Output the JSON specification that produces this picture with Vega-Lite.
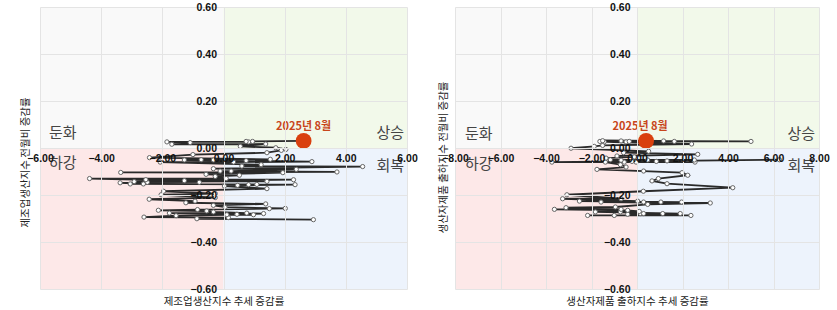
{
  "$schema": "https://vega.github.io/schema/vega-lite/v6.json",
  "padding": {"left": 19, "top": 2, "right": 0, "bottom": 0},
  "background": "white",
  "spacing": 48,
  "bounds": "flush",
  "config": {
    "view": {"stroke": null},
    "axis": {
      "domain": false, "ticks": false, "grid": true, "gridColor": "#e4e4e4", "gridWidth": 1,
      "labelFont": "Liberation Sans", "labelFontWeight": "bold", "labelFontSize": 10.5, "labelColor": "#111",
      "labelFlush": false, "labelOverlap": false,
      "titleFont": "Noto Sans CJK KR", "titleFontSize": 10.5, "titleFontWeight": "normal", "titleColor": "#222"
    }
  },
  "datasets": {
    "Lq": [
      {"q": "둔화", "x": -6, "x2": 0, "y": 0, "y2": 0.6},
      {"q": "상승", "x": 0, "x2": 6, "y": 0, "y2": 0.6},
      {"q": "하강", "x": -6, "x2": 0, "y": -0.6, "y2": 0},
      {"q": "회복", "x": 0, "x2": 6, "y": -0.6, "y2": 0}
    ],
    "Rq": [
      {"q": "둔화", "x": -8, "x2": 0, "y": 0, "y2": 0.6},
      {"q": "상승", "x": 0, "x2": 8, "y": 0, "y2": 0.6},
      {"q": "하강", "x": -8, "x2": 0, "y": -0.6, "y2": 0},
      {"q": "회복", "x": 0, "x2": 8, "y": -0.6, "y2": 0}
    ],
    "L": [
      {"t": 1, "x": 2.94, "y": -0.305}, {"t": 2, "x": -0.87, "y": -0.301}, {"t": 3, "x": 0.16, "y": -0.296},
      {"t": 4, "x": -2.60, "y": -0.294}, {"t": 5, "x": -1.55, "y": -0.288}, {"t": 6, "x": 0.11, "y": -0.284},
      {"t": 7, "x": 0.98, "y": -0.284}, {"t": 8, "x": 0.44, "y": -0.282}, {"t": 9, "x": 1.31, "y": -0.279},
      {"t": 10, "x": -1.77, "y": -0.277}, {"t": 11, "x": 0.76, "y": -0.277}, {"t": 12, "x": -0.33, "y": -0.272},
      {"t": 13, "x": -0.55, "y": -0.268}, {"t": 14, "x": -2.13, "y": -0.265}, {"t": 15, "x": -0.85, "y": -0.262},
      {"t": 16, "x": 1.50, "y": -0.258}, {"t": 17, "x": 2.02, "y": -0.257}, {"t": 18, "x": 0.05, "y": -0.252},
      {"t": 19, "x": -0.33, "y": -0.244}, {"t": 20, "x": 1.38, "y": -0.238}, {"t": 21, "x": -1.23, "y": -0.233},
      {"t": 22, "x": -0.93, "y": -0.226}, {"t": 23, "x": -2.43, "y": -0.218}, {"t": 24, "x": -0.27, "y": -0.211},
      {"t": 25, "x": -2.04, "y": -0.199}, {"t": 26, "x": -0.27, "y": -0.194}, {"t": 27, "x": -1.96, "y": -0.184},
      {"t": 28, "x": 1.42, "y": -0.173}, {"t": 29, "x": 0.03, "y": -0.162}, {"t": 30, "x": 0.46, "y": -0.159},
      {"t": 31, "x": 2.34, "y": -0.156}, {"t": 32, "x": 0.82, "y": -0.156}, {"t": 33, "x": 1.09, "y": -0.155},
      {"t": 34, "x": -3.05, "y": -0.153}, {"t": 35, "x": -2.62, "y": -0.153}, {"t": 36, "x": -3.38, "y": -0.148},
      {"t": 37, "x": -0.79, "y": -0.146}, {"t": 38, "x": -2.49, "y": -0.146}, {"t": 39, "x": -2.92, "y": -0.143},
      {"t": 40, "x": 1.42, "y": -0.142}, {"t": 41, "x": -1.28, "y": -0.139}, {"t": 42, "x": 2.29, "y": -0.135},
      {"t": 43, "x": -2.54, "y": -0.135}, {"t": 44, "x": -4.38, "y": -0.130}, {"t": 45, "x": 0.09, "y": -0.130},
      {"t": 46, "x": -0.27, "y": -0.121}, {"t": 47, "x": 0.52, "y": -0.116}, {"t": 48, "x": -0.57, "y": -0.112},
      {"t": 49, "x": 1.94, "y": -0.105}, {"t": 50, "x": -3.36, "y": -0.104}, {"t": 51, "x": 3.71, "y": -0.102},
      {"t": 52, "x": -0.11, "y": -0.098}, {"t": 53, "x": 0.25, "y": -0.098}, {"t": 54, "x": 2.38, "y": -0.091},
      {"t": 55, "x": -0.33, "y": -0.088}, {"t": 56, "x": 4.55, "y": -0.079}, {"t": 57, "x": 0.60, "y": -0.077},
      {"t": 58, "x": 1.23, "y": -0.071}, {"t": 59, "x": -2.07, "y": -0.060}, {"t": 60, "x": 0.33, "y": -0.060},
      {"t": 61, "x": 2.89, "y": -0.058}, {"t": 62, "x": 0.74, "y": -0.054}, {"t": 63, "x": -1.28, "y": -0.051},
      {"t": 64, "x": -0.33, "y": -0.051}, {"t": 65, "x": -0.73, "y": -0.050}, {"t": 66, "x": 1.53, "y": -0.048},
      {"t": 67, "x": -2.42, "y": -0.041}, {"t": 68, "x": -1.00, "y": -0.028}, {"t": 69, "x": 1.42, "y": -0.020},
      {"t": 70, "x": 1.89, "y": -0.010}, {"t": 71, "x": 2.04, "y": -0.006}, {"t": 72, "x": 1.71, "y": 0.001},
      {"t": 73, "x": 0.55, "y": 0.007}, {"t": 74, "x": 1.38, "y": 0.017}, {"t": 75, "x": -1.69, "y": 0.016},
      {"t": 76, "x": -1.09, "y": 0.023}, {"t": 77, "x": -1.85, "y": 0.026}, {"t": 78, "x": 0.82, "y": 0.026},
      {"t": 79, "x": 0.74, "y": 0.028}, {"t": 80, "x": 0.95, "y": 0.028},
      {"t": 81, "x": 2.62, "y": 0.030, "m": "2025년 8월"}
    ],
    "R": [
      {"t": 1, "x": -2.17, "y": -0.287}, {"t": 2, "x": -1.00, "y": -0.287}, {"t": 3, "x": 2.37, "y": -0.287},
      {"t": 4, "x": -0.41, "y": -0.282}, {"t": 5, "x": 0.15, "y": -0.279}, {"t": 6, "x": 0.29, "y": -0.279},
      {"t": 7, "x": 1.13, "y": -0.279}, {"t": 8, "x": 1.90, "y": -0.279}, {"t": 9, "x": -1.83, "y": -0.272},
      {"t": 10, "x": -0.73, "y": -0.272}, {"t": 11, "x": 0.10, "y": -0.270}, {"t": 12, "x": -0.41, "y": -0.265},
      {"t": 13, "x": -3.63, "y": -0.261}, {"t": 14, "x": -0.70, "y": -0.261}, {"t": 15, "x": -3.12, "y": -0.254},
      {"t": 16, "x": -0.95, "y": -0.251}, {"t": 17, "x": 0.47, "y": -0.240}, {"t": 18, "x": 3.22, "y": -0.234},
      {"t": 19, "x": -1.58, "y": -0.230}, {"t": 20, "x": 0.29, "y": -0.230}, {"t": 21, "x": 1.05, "y": -0.230},
      {"t": 22, "x": 1.96, "y": -0.230}, {"t": 23, "x": -2.53, "y": -0.226}, {"t": 24, "x": 0.03, "y": -0.226},
      {"t": 25, "x": -3.27, "y": -0.216}, {"t": 26, "x": -0.70, "y": -0.216}, {"t": 27, "x": -3.08, "y": -0.199},
      {"t": 28, "x": 0.28, "y": -0.184}, {"t": 29, "x": 4.21, "y": -0.169}, {"t": 30, "x": 1.32, "y": -0.152},
      {"t": 31, "x": 0.66, "y": -0.140}, {"t": 32, "x": 0.94, "y": -0.130}, {"t": 33, "x": 2.23, "y": -0.116},
      {"t": 34, "x": 1.98, "y": -0.105}, {"t": 35, "x": 0.29, "y": -0.098}, {"t": 36, "x": -1.76, "y": -0.091},
      {"t": 37, "x": -0.48, "y": -0.081}, {"t": 38, "x": -0.73, "y": -0.071}, {"t": 39, "x": -1.39, "y": -0.060},
      {"t": 40, "x": -0.56, "y": -0.060}, {"t": 41, "x": -0.04, "y": -0.060}, {"t": 42, "x": 2.55, "y": -0.060},
      {"t": 43, "x": -3.74, "y": -0.060}, {"t": 44, "x": 6.26, "y": -0.050}, {"t": 45, "x": -0.22, "y": -0.057},
      {"t": 46, "x": 0.85, "y": -0.057}, {"t": 47, "x": 1.32, "y": -0.055}, {"t": 48, "x": -0.70, "y": -0.052},
      {"t": 49, "x": 0.47, "y": -0.051}, {"t": 50, "x": 2.52, "y": -0.051}, {"t": 51, "x": -1.17, "y": -0.050},
      {"t": 52, "x": -1.36, "y": -0.043}, {"t": 53, "x": -0.12, "y": -0.038}, {"t": 54, "x": -0.88, "y": -0.034},
      {"t": 55, "x": 2.67, "y": -0.027}, {"t": 56, "x": -0.59, "y": -0.020}, {"t": 57, "x": 0.51, "y": -0.014},
      {"t": 58, "x": -2.90, "y": -0.001}, {"t": 59, "x": -1.88, "y": 0.007}, {"t": 60, "x": -1.51, "y": 0.011},
      {"t": 61, "x": 2.40, "y": 0.017}, {"t": 62, "x": -1.44, "y": 0.026}, {"t": 63, "x": -0.48, "y": 0.026},
      {"t": 64, "x": -1.63, "y": 0.028}, {"t": 65, "x": -0.34, "y": 0.028}, {"t": 66, "x": 1.64, "y": 0.028},
      {"t": 67, "x": 5.01, "y": 0.028}, {"t": 68, "x": -0.70, "y": 0.030}, {"t": 69, "x": 1.17, "y": 0.030},
      {"t": 70, "x": -1.51, "y": 0.031},
      {"t": 71, "x": 0.40, "y": 0.030, "m": "2025년 8월"}
    ]
  },
  "hconcat": [
    {
      "width": 367, "height": 282,
      "encoding": {
        "x": {"field": "x", "type": "quantitative", "scale": {"domain": [-6, 6], "nice": false, "zero": false},
          "axis": {"title": "제조업생산지수 추세 증감률", "values": [-6, -4, -2, 0, 2, 4, 6], "format": ".2f", "zindex": 1,
            "offset": -141, "labelPadding": 5, "titleY": 153, "titleBaseline": "middle"}},
        "y": {"field": "y", "type": "quantitative", "scale": {"domain": [-0.6, 0.6], "nice": false, "zero": false},
          "axis": {"title": "제조업생산지수 전월비 증감률", "values": [-0.6, -0.4, -0.2, 0, 0.2, 0.4, 0.6], "format": ".2f", "zindex": 1,
            "offset": -183.5, "labelPadding": 7, "titleX": -198.5, "titleY": 155, "titleAngle": -90, "titleAlign": "center", "titleBaseline": "middle"}}
      },
      "layer": [
        {"data": {"name": "Lq"}, "mark": {"type": "rect"},
          "encoding": {"x2": {"field": "x2"}, "y2": {"field": "y2"},
            "color": {"field": "q", "type": "nominal", "legend": null,
              "scale": {"domain": ["둔화", "상승", "하강", "회복"], "range": ["#f9f9f9", "#f2f9ea", "#fde8e8", "#edf3fc"]}}}},
        {"data": {"name": "Lq"}, "transform": [{"filter": "datum.q === '둔화'"}],
          "mark": {"type": "text", "align": "left", "baseline": "middle", "dx": 9, "dy": -15, "font": "Noto Sans CJK KR", "fontSize": 15, "color": "#444"},
          "encoding": {"text": {"field": "q"}}},
        {"data": {"name": "Lq"}, "transform": [{"filter": "datum.q === '상승'"}],
          "mark": {"type": "text", "align": "right", "baseline": "middle", "dx": -3, "dy": -15, "font": "Noto Sans CJK KR", "fontSize": 15, "color": "#444"},
          "encoding": {"x": {"field": "x2", "type": "quantitative"}, "text": {"field": "q"}}},
        {"data": {"name": "Lq"}, "transform": [{"filter": "datum.q === '하강'"}],
          "mark": {"type": "text", "align": "left", "baseline": "middle", "dx": 9, "dy": 15, "font": "Noto Sans CJK KR", "fontSize": 15, "color": "#444"},
          "encoding": {"y": {"field": "y2", "type": "quantitative"}, "text": {"field": "q"}}},
        {"data": {"name": "Lq"}, "transform": [{"filter": "datum.q === '회복'"}],
          "mark": {"type": "text", "align": "right", "baseline": "middle", "dx": -3, "dy": 18, "font": "Noto Sans CJK KR", "fontSize": 15, "color": "#444"},
          "encoding": {"x": {"field": "x2", "type": "quantitative"}, "y": {"field": "y2", "type": "quantitative"}, "text": {"field": "q"}}},
        {"data": {"name": "L"}, "mark": {"type": "line", "color": "#2a2a2a", "strokeWidth": 1.8},
          "encoding": {"order": {"field": "t", "type": "quantitative"}}},
        {"data": {"name": "L"}, "transform": [{"filter": "!datum.m"}],
          "mark": {"type": "point", "filled": true, "fill": "white", "stroke": "#666", "strokeWidth": 1, "size": 18, "opacity": 1}},
        {"data": {"name": "L"}, "transform": [{"filter": "datum.m"}],
          "mark": {"type": "point", "filled": true, "color": "#d9400e", "size": 250, "opacity": 1}},
        {"data": {"name": "L"}, "transform": [{"filter": "datum.m"}],
          "mark": {"type": "text", "dy": -14, "font": "Noto Sans CJK KR", "fontSize": 11, "fontWeight": "bold", "color": "#c8461c"},
          "encoding": {"text": {"field": "m"}}}
      ]
    },
    {
      "width": 364, "height": 282,
      "encoding": {
        "x": {"field": "x", "type": "quantitative", "scale": {"domain": [-8, 8], "nice": false, "zero": false},
          "axis": {"title": "생산자제품 출하지수 추세 증감률", "values": [-8, -6, -4, -2, 0, 2, 4, 6, 8], "format": ".2f", "zindex": 1,
            "offset": -141, "labelPadding": 5, "titleY": 153, "titleBaseline": "middle"}},
        "y": {"field": "y", "type": "quantitative", "scale": {"domain": [-0.6, 0.6], "nice": false, "zero": false},
          "axis": {"title": "생산자제품 출하지수 전월비 증감률", "values": [-0.6, -0.4, -0.2, 0, 0.2, 0.4, 0.6], "format": ".2f", "zindex": 1,
            "offset": -182, "labelPadding": 7, "titleX": -194, "titleY": 150, "titleAngle": -90, "titleAlign": "center", "titleBaseline": "middle"}}
      },
      "layer": [
        {"data": {"name": "Rq"}, "mark": {"type": "rect"},
          "encoding": {"x2": {"field": "x2"}, "y2": {"field": "y2"},
            "color": {"field": "q", "type": "nominal", "legend": null,
              "scale": {"domain": ["둔화", "상승", "하강", "회복"], "range": ["#f9f9f9", "#f2f9ea", "#fde8e8", "#edf3fc"]}}}},
        {"data": {"name": "Rq"}, "transform": [{"filter": "datum.q === '둔화'"}],
          "mark": {"type": "text", "align": "left", "baseline": "middle", "dx": 10, "dy": -14, "font": "Noto Sans CJK KR", "fontSize": 15, "color": "#444"},
          "encoding": {"text": {"field": "q"}}},
        {"data": {"name": "Rq"}, "transform": [{"filter": "datum.q === '상승'"}],
          "mark": {"type": "text", "align": "right", "baseline": "middle", "dx": -4, "dy": -14, "font": "Noto Sans CJK KR", "fontSize": 15, "color": "#444"},
          "encoding": {"x": {"field": "x2", "type": "quantitative"}, "text": {"field": "q"}}},
        {"data": {"name": "Rq"}, "transform": [{"filter": "datum.q === '하강'"}],
          "mark": {"type": "text", "align": "left", "baseline": "middle", "dx": 10, "dy": 16, "font": "Noto Sans CJK KR", "fontSize": 15, "color": "#444"},
          "encoding": {"y": {"field": "y2", "type": "quantitative"}, "text": {"field": "q"}}},
        {"data": {"name": "Rq"}, "transform": [{"filter": "datum.q === '회복'"}],
          "mark": {"type": "text", "align": "right", "baseline": "middle", "dx": -4, "dy": 18, "font": "Noto Sans CJK KR", "fontSize": 15, "color": "#444"},
          "encoding": {"x": {"field": "x2", "type": "quantitative"}, "y": {"field": "y2", "type": "quantitative"}, "text": {"field": "q"}}},
        {"data": {"name": "R"}, "mark": {"type": "line", "color": "#2a2a2a", "strokeWidth": 1.8},
          "encoding": {"order": {"field": "t", "type": "quantitative"}}},
        {"data": {"name": "R"}, "transform": [{"filter": "!datum.m"}],
          "mark": {"type": "point", "filled": true, "fill": "white", "stroke": "#666", "strokeWidth": 1, "size": 18, "opacity": 1}},
        {"data": {"name": "R"}, "transform": [{"filter": "datum.m"}],
          "mark": {"type": "point", "filled": true, "color": "#d9400e", "size": 250, "opacity": 1}},
        {"data": {"name": "R"}, "transform": [{"filter": "datum.m"}],
          "mark": {"type": "text", "dy": -14, "dx": -6, "font": "Noto Sans CJK KR", "fontSize": 11, "fontWeight": "bold", "color": "#c8461c"},
          "encoding": {"text": {"field": "m"}}}
      ]
    }
  ]
}
